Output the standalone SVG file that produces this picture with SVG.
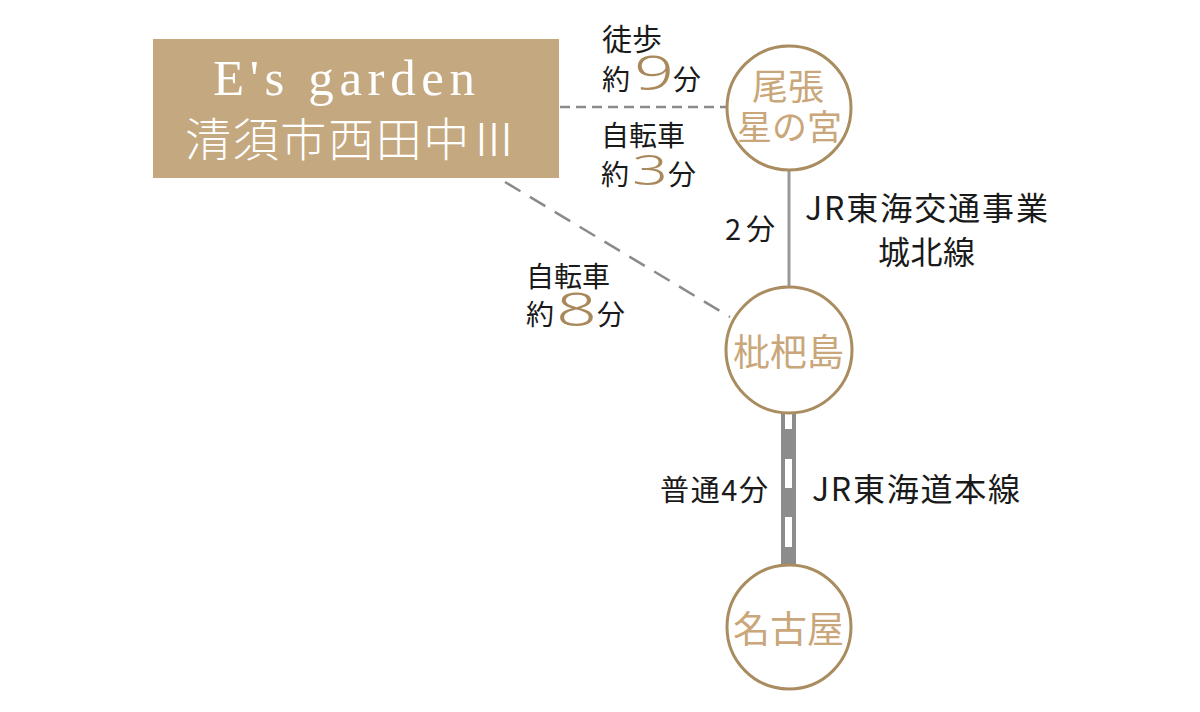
<svg xmlns="http://www.w3.org/2000/svg" width="1200" height="712" viewBox="0 0 1200 712">
<style>
.lbl{font-family:"Noto Sans CJK JP","Noto Sans",sans-serif;fill:#1a1a1a}
.num{font-family:"Noto Sans","Noto Sans CJK JP",sans-serif;fill:#a9895c;font-weight:300}
.st{font-family:"Noto Sans CJK JP",sans-serif;fill:#c9a77a}
.stc{fill:#fff;stroke:#a98c5f;stroke-width:3}
.dash{stroke:#8a8a8a;stroke-width:2.5;fill:none}
</style>
<rect width="1200" height="712" fill="#fff"/>
<g id="connectors">
<line class="dash" x1="560" y1="107" x2="727" y2="107" stroke-dasharray="10 6"/>
<line class="dash" x1="505" y1="182" x2="730" y2="317" stroke-dasharray="18 11"/>
<line x1="789" y1="170" x2="789" y2="288" stroke="#999" stroke-width="3"/>
<g id="rail">
<rect x="781" y="410" width="15" height="158" fill="#8c8c8c"/>
<rect x="785" y="414" width="7" height="15" fill="#fff"/>
<rect x="785" y="459" width="7" height="29" fill="#fff"/>
<rect x="785" y="517" width="7" height="30" fill="#fff"/>
</g>
</g>
<g id="property">
<rect x="153" y="39" width="406" height="139" fill="#c4a880"/>
<text x="213" y="95" font-family="Liberation Serif,serif" font-size="51" fill="#fff" textLength="262" lengthAdjust="spacing">E's garden</text>
<text x="185" y="156" font-family="Noto Sans CJK JP,sans-serif" font-weight="300" font-size="46" fill="#fff" textLength="332" lengthAdjust="spacing">清須市西田中Ⅲ</text>
</g>
<g id="walk-label">
<text class="lbl" font-size="28"><tspan x="602" y="50" font-size="30">徒歩</tspan><tspan x="602" y="90">約</tspan><tspan x="673" y="90">分</tspan></text>
<text class="num" x="634" y="90" font-size="48" textLength="40" lengthAdjust="spacingAndGlyphs">9</text>
</g>
<g id="bike-label-1">
<text class="lbl" font-size="28"><tspan x="601" y="146">自転車</tspan><tspan x="601" y="185">約</tspan><tspan x="668" y="185">分</tspan></text>
<text class="num" x="632" y="185" font-size="43" textLength="36" lengthAdjust="spacingAndGlyphs">3</text>
</g>
<g id="bike-label-2">
<text class="lbl" font-size="28"><tspan x="526" y="287">自転車</tspan><tspan x="526" y="325">約</tspan><tspan x="597" y="325">分</tspan></text>
<text class="num" x="556" y="326" font-size="45" textLength="41" lengthAdjust="spacingAndGlyphs">8</text>
</g>
<g id="line-labels">
<text class="lbl" x="725" y="240" font-size="29" textLength="50" lengthAdjust="spacing">2分</text>
<text class="lbl" x="805" y="220" font-size="32" textLength="243" lengthAdjust="spacing">JR東海交通事業</text>
<text class="lbl" x="878" y="264" font-size="32" textLength="97" lengthAdjust="spacing">城北線</text>
<text class="lbl" x="660" y="501" font-size="29" textLength="108" lengthAdjust="spacing">普通4分</text>
<text class="lbl" x="812" y="501" font-size="32" textLength="208" lengthAdjust="spacing">JR東海道本線</text>
</g>
<g id="station-owari">
<circle class="stc" cx="789" cy="108" r="62"/>
<text class="st"><tspan x="752" y="100" font-size="36">尾張</tspan><tspan x="737" y="140" font-size="35">星の宮</tspan></text>
</g>
<g id="station-biwajima">
<circle class="stc" cx="789" cy="350" r="63"/>
<text class="st" x="733" y="366" font-size="37">枇杷島</text>
</g>
<g id="station-nagoya">
<circle class="stc" cx="789" cy="627" r="62"/>
<text class="st" x="733" y="643" font-size="37">名古屋</text>
</g>
</svg>
